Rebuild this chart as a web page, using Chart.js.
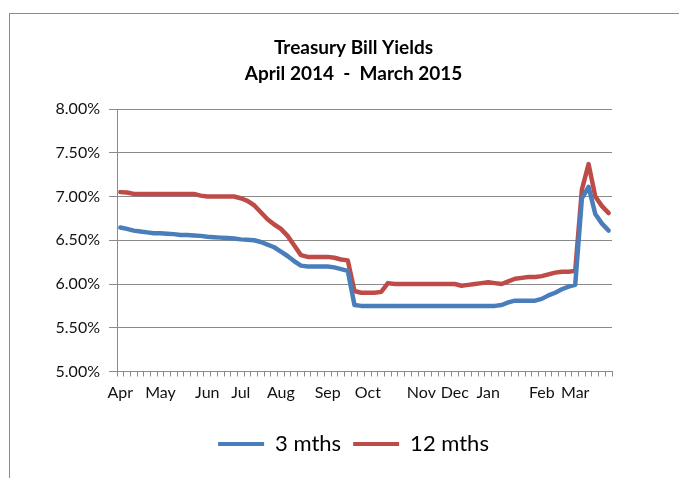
<!DOCTYPE html>
<html>
<head>
<meta charset="utf-8">
<script src="https://cdn.jsdelivr.net/npm/chart.js@4"></script>
<style>
html,body{margin:0;padding:0;background:#fff;overflow:hidden;width:679px;height:478px;}
#frame{position:absolute;left:9px;top:13px;width:669px;height:465px;overflow:hidden;border-left:1px solid #8c8c8c;border-top:1px solid #8c8c8c;}
canvas{display:block}
</style>
</head>
<body>
<div id="frame"><canvas id="yields" width="687" height="469"></canvas></div>
<script>
const months=['Apr','May','Jun','Jul','Aug','Sep','Oct','Nov','Dec','Jan','Feb','Mar'];
const monthStart=[0,6,13,18,24,31,37,45,50,55,63,68];
const pointCount=74;

const yTicks=[5.00,5.50,6.00,6.50,7.00,7.50,8.00];

const threeMths=[
  6.645,6.63,6.61,6.60,6.59,6.58,6.58,6.575,6.57,6.56,
  6.56,6.555,6.55,6.54,6.535,6.53,6.525,6.52,6.51,6.505,
  6.50,6.48,6.45,6.42,6.37,6.32,6.26,6.21,6.20,6.20,
  6.20,6.20,6.19,6.17,6.15,5.76,5.75,5.75,5.75,5.75,
  5.75,5.75,5.75,5.75,5.75,5.75,5.75,5.75,5.75,5.75,
  5.75,5.75,5.75,5.75,5.75,5.75,5.75,5.76,5.79,5.81,
  5.81,5.81,5.81,5.83,5.87,5.90,5.94,5.97,5.99,6.98,
  7.11,6.80,6.69,6.61
];
const twelveMths=[
  7.05,7.045,7.03,7.03,7.03,7.03,7.03,7.03,7.03,7.03,
  7.03,7.03,7.01,7.00,7.00,7.00,7.00,7.00,6.98,6.95,
  6.90,6.82,6.74,6.68,6.63,6.55,6.44,6.33,6.31,6.31,
  6.31,6.31,6.30,6.28,6.27,5.92,5.90,5.90,5.90,5.91,
  6.01,6.00,6.00,6.00,6.00,6.00,6.00,6.00,6.00,6.00,
  6.00,5.98,5.99,6.00,6.01,6.02,6.01,6.00,6.03,6.06,
  6.07,6.08,6.08,6.09,6.11,6.13,6.14,6.14,6.15,7.08,
  7.37,7.00,6.89,6.81
];

// category labels: month name on first point of each month, blank otherwise
const labels=Array(pointCount).fill('');
monthStart.forEach((idx,i)=>labels[idx]=months[i]);

const FONT='Lato, "Liberation Sans", sans-serif';
const GRID='#8a8a8a';

new Chart(document.getElementById('yields'),{
  type:'line',
  data:{
    labels,
    datasets:[
      {label:'3 mths',data:threeMths,borderColor:'#4a7ebb',backgroundColor:'#4a7ebb'},
      {label:'12 mths',data:twelveMths,borderColor:'#be4b48',backgroundColor:'#be4b48'}
    ]
  },
  options:{
    responsive:false,
    animation:false,
    events:[],
    layout:{padding:{left:0,right:0,top:0,bottom:18}},
    elements:{
      point:{radius:0},
      line:{borderWidth:4.5,tension:0,borderJoinStyle:'round',borderCapStyle:'round'}
    },
    plugins:{
      tooltip:{enabled:false},
      title:{
        display:true,
        text:['Treasury Bill Yields','April 2014  -  March 2015'],
        color:'#000',
        font:{family:FONT,size:19,weight:'bold',lineHeight:'26px'},
        padding:{top:21,bottom:22}
      },
      legend:{
        position:'bottom',
        labels:{
          color:'#000',
          font:{family:FONT,size:22},
          boxWidth:46,
          boxHeight:4,
          padding:12,
          generateLabels:chart=>Chart.defaults.plugins.legend.labels.generateLabels(chart).map(l=>({...l,lineWidth:0}))
        }
      }
    },
    scales:{
      x:{
        offset:true,
        grid:{display:true,drawOnChartArea:false,drawTicks:true,tickLength:5,color:GRID,offset:true},
        border:{display:true,color:GRID,width:1},
        ticks:{autoSkip:false,maxRotation:0,minRotation:0,padding:7,color:'#111',font:{family:FONT,size:16}},
        afterFit:s=>{s.height=49.5;}
      },
      y:{
        min:yTicks[0],
        max:yTicks[yTicks.length-1],
        afterBuildTicks:s=>{s.ticks=yTicks.map(v=>({value:v}));},
        grid:{color:GRID,lineWidth:1,drawTicks:true,tickLength:8},
        border:{display:true,color:GRID,width:1},
        ticks:{padding:9,color:'#111',font:{family:FONT,size:16},callback:v=>v.toFixed(2)+'%'},
        afterFit:s=>{s.width=107;}
      },
      pad:{
        type:'linear',
        position:'right',
        display:true,
        grid:{display:false,drawTicks:false},
        border:{display:false},
        ticks:{display:false},
        afterFit:s=>{s.width=85;}
      }
    }
  }
});
</script>
</body>
</html>
